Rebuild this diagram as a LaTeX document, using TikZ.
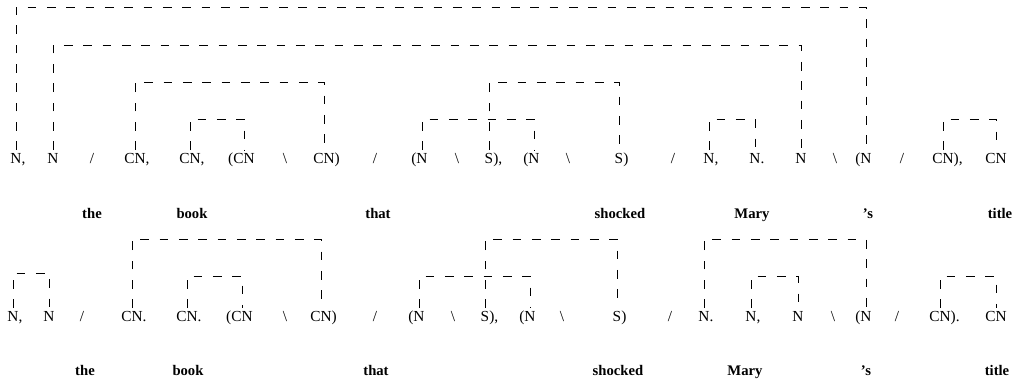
\documentclass[tikz,border=0pt]{standalone}
\usepackage{fontspec}
\setmainfont{Liberation Serif}
\newcommand\bracketline[3]{\draw[br] (#1.north) -- (#1.north |- #3) -| (#2.north);}
\begin{document}
\begin{tikzpicture}[x=0.75pt,y=-0.75pt,
  tok/.style={font=\fontsize{11.5}{13}\selectfont, anchor=base, text height=7.5pt, text depth=2pt, inner sep=2pt},
  wd/.style={font=\fontsize{11}{13}\selectfont\bfseries, anchor=base, inner sep=1pt},
  br/.style={draw=black, line width=0.7pt, dash pattern=on 6.5pt off 8pt}]
\useasboundingbox (0,0) rectangle (1022,385);
% levels
\coordinate (LA) at (0,7);
\coordinate (LB) at (0,45);
\coordinate (LC) at (0,82);
\coordinate (LD) at (0,119);
\coordinate (LE) at (0,239);
\coordinate (LF) at (0,276);
\coordinate (LG) at (0,273);
% ---- top row tokens ----
\node[tok] (t1)  at (16,163)  {N\rlap{,}};
\node[tok] (t2)  at (53,163)  {N};
\node[tok] (t3)  at (92,163)  {/};
\node[tok] (t4)  at (135,163) {CN\rlap{,}};
\node[tok] (t5)  at (190,163) {CN\rlap{,}};
\node[tok] (t6)  at (244,163) {\llap{(}CN};
\node[tok] (t7)  at (285,163) {\textbackslash};
\node[tok] (t8)  at (324,163) {CN\rlap{)}};
\node[tok] (t9)  at (375,163) {/};
\node[tok] (t10) at (422,163) {\llap{(}N};
\node[tok] (t11) at (457,163) {\textbackslash};
\node[tok] (t12) at (489,163) {S\rlap{),}};
\node[tok] (t13) at (534,163) {\llap{(}N};
\node[tok] (t14) at (568,163) {\textbackslash};
\node[tok] (t15) at (619,163) {S\rlap{)}};
\node[tok] (t16) at (673,163) {/};
\node[tok] (t17) at (709,163) {N\rlap{,}};
\node[tok] (t18) at (755,163) {N\rlap{.}};
\node[tok] (t19) at (801,163) {N};
\node[tok] (t20) at (835,163) {\textbackslash};
\node[tok] (t21) at (866,163) {\llap{(}N};
\node[tok] (t22) at (902,163) {/};
\node[tok] (t23) at (943,163) {CN\rlap{),}};
\node[tok] (t24) at (996,163) {CN};
% top words
\node[wd] (tw1) at (92,218)   {the};
\node[wd] (tw2) at (192,218)  {book};
\node[wd] (tw3) at (378,218)  {that};
\node[wd] (tw4) at (620,218)  {shocked};
\node[wd] (tw5) at (752,218)  {Mary};
\node[wd] (tw6) at (868,218)  {’s};
\node[wd] (tw7) at (1000,218) {title};
% top brackets
\bracketline{t1}{t21}{LA}
\bracketline{t2}{t19}{LB}
\bracketline{t4}{t8}{LC}
\bracketline{t5}{t6}{LD}
\bracketline{t12}{t15}{LC}
\bracketline{t10}{t13}{LD}
\bracketline{t17}{t18}{LD}
\bracketline{t23}{t24}{LD}
% ---- bottom row tokens ----
\node[tok] (b1)  at (13,321)  {N\rlap{,}};
\node[tok] (b2)  at (49,321)  {N};
\node[tok] (b3)  at (82,321)  {/};
\node[tok] (b4)  at (132,321) {CN\rlap{.}};
\node[tok] (b5)  at (187,321) {CN\rlap{.}};
\node[tok] (b6)  at (242,321) {\llap{(}CN};
\node[tok] (b7)  at (285,321) {\textbackslash};
\node[tok] (b8)  at (321,321) {CN\rlap{)}};
\node[tok] (b9)  at (375,321) {/};
\node[tok] (b10) at (419,321) {\llap{(}N};
\node[tok] (b11) at (453,321) {\textbackslash};
\node[tok] (b12) at (485,321) {S\rlap{),}};
\node[tok] (b13) at (530,321) {\llap{(}N};
\node[tok] (b14) at (562,321) {\textbackslash};
\node[tok] (b15) at (617,321) {S\rlap{)}};
\node[tok] (b16) at (670,321) {/};
\node[tok] (b17) at (704,321) {N\rlap{.}};
\node[tok] (b18) at (751,321) {N\rlap{,}};
\node[tok] (b19) at (798,321) {N};
\node[tok] (b20) at (833,321) {\textbackslash};
\node[tok] (b21) at (866,321) {\llap{(}N};
\node[tok] (b22) at (897,321) {/};
\node[tok] (b23) at (940,321) {CN\rlap{).}};
\node[tok] (b24) at (996,321) {CN};
% bottom words
\node[wd] (bw1) at (85,375)   {the};
\node[wd] (bw2) at (188,375)  {book};
\node[wd] (bw3) at (376,375)  {that};
\node[wd] (bw4) at (618,375)  {shocked};
\node[wd] (bw5) at (745,375)  {Mary};
\node[wd] (bw6) at (866,375)  {’s};
\node[wd] (bw7) at (997,375)  {title};
% bottom brackets
\bracketline{b1}{b2}{LG}
\bracketline{b4}{b8}{LE}
\bracketline{b5}{b6}{LF}
\bracketline{b12}{b15}{LE}
\bracketline{b10}{b13}{LF}
\bracketline{b17}{b21}{LE}
\bracketline{b18}{b19}{LF}
\bracketline{b23}{b24}{LF}
\end{tikzpicture}
\end{document}
